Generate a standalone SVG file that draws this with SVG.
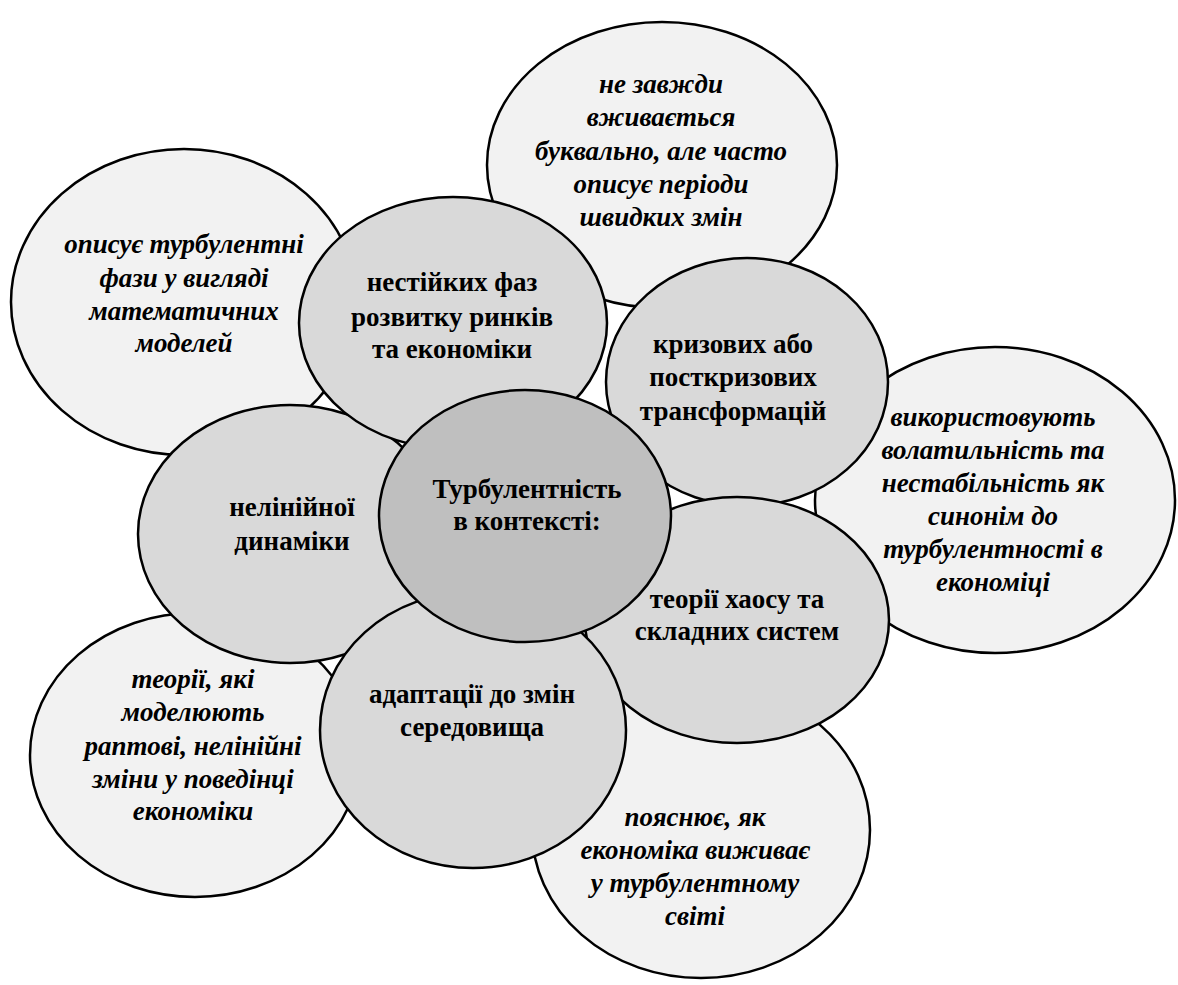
<svg xmlns="http://www.w3.org/2000/svg" width="1178" height="985" viewBox="0 0 1178 985">
<style>
.o{fill:#f2f2f2;stroke:#000;stroke-width:2.5}
.m{fill:#d9d9d9;stroke:#000;stroke-width:2.5}
.c{fill:#bfbfbf;stroke:#000;stroke-width:2.5}
text{font-family:"Liberation Serif","Times New Roman",serif;font-size:27px;font-weight:bold;fill:#000;text-anchor:middle}
.i{font-style:italic}
</style>
<rect width="1178" height="985" fill="#fff"/>
<g id="outer-top">
<ellipse class="o" cx="662" cy="165" rx="175" ry="143"/>
<text class="i" x="661"><tspan x="661" y="93">не завжди</tspan><tspan x="661" y="126">вживається</tspan><tspan x="661" y="160">буквально, але часто</tspan><tspan x="661" y="193">описує періоди</tspan><tspan x="661" y="226">швидких змін</tspan></text>
</g>
<g id="outer-topleft">
<ellipse class="o" cx="184" cy="302" rx="173" ry="153"/>
<text class="i" x="184"><tspan x="184" y="253">описує турбулентні</tspan><tspan x="184" y="287">фази у вигляді</tspan><tspan x="184" y="320">математичних</tspan><tspan x="184" y="352">моделей</tspan></text>
</g>
<g id="outer-right">
<ellipse class="o" cx="995" cy="500" rx="180" ry="153"/>
<text class="i" x="993"><tspan x="993" y="426">використовують</tspan><tspan x="993" y="459">волатильність та</tspan><tspan x="993" y="492">нестабільність як</tspan><tspan x="993" y="525">синонім до</tspan><tspan x="993" y="558">турбулентності в</tspan><tspan x="993" y="591">економіці</tspan></text>
</g>
<g id="outer-bottomleft">
<ellipse class="o" cx="195" cy="755" rx="165" ry="142"/>
<text class="i" x="193"><tspan x="193" y="688">теорії, які</tspan><tspan x="193" y="721">моделюють</tspan><tspan x="193" y="755">раптові, нелінійні</tspan><tspan x="193" y="788">зміни у поведінці</tspan><tspan x="193" y="820">економіки</tspan></text>
</g>
<g id="outer-bottomright">
<ellipse class="o" cx="701" cy="830" rx="169" ry="148"/>
<text class="i" x="695"><tspan x="695" y="826">пояснює, як</tspan><tspan x="695" y="859">економіка виживає</tspan><tspan x="695" y="892">у турбулентному</tspan><tspan x="695" y="925">світі</tspan></text>
</g>
<g id="mid-nonlinear">
<ellipse class="m" cx="290" cy="534" rx="152" ry="129"/>
<text x="292"><tspan x="292" y="516">нелінійної</tspan><tspan x="292" y="550">динаміки</tspan></text>
</g>
<g id="mid-crisis">
<ellipse class="m" cx="747" cy="382" rx="141" ry="124"/>
<text x="733"><tspan x="733" y="353">кризових або</tspan><tspan x="733" y="386">посткризових</tspan><tspan x="733" y="420">трансформацій</tspan></text>
</g>
<g id="mid-unstable">
<ellipse class="m" cx="453" cy="323" rx="154" ry="126"/>
<text x="452"><tspan x="452" y="291">нестійких фаз</tspan><tspan x="452" y="326">розвитку ринків</tspan><tspan x="452" y="358">та економіки</tspan></text>
</g>
<g id="mid-chaos">
<ellipse class="m" cx="737" cy="620" rx="152" ry="123"/>
<text x="737"><tspan x="737" y="608">теорії хаосу та</tspan><tspan x="737" y="640">складних систем</tspan></text>
</g>
<g id="mid-adapt">
<ellipse class="m" cx="473" cy="730" rx="153" ry="138"/>
<text x="472"><tspan x="472" y="703">адаптації до змін</tspan><tspan x="472" y="736">середовища</tspan></text>
</g>
<g id="center">
<ellipse class="c" cx="525" cy="516" rx="146" ry="126"/>
<text x="527"><tspan x="527" y="498">Турбулентність</tspan><tspan x="527" y="530">в контексті:</tspan></text>
</g>
<g id="connectors"></g>
</svg>
